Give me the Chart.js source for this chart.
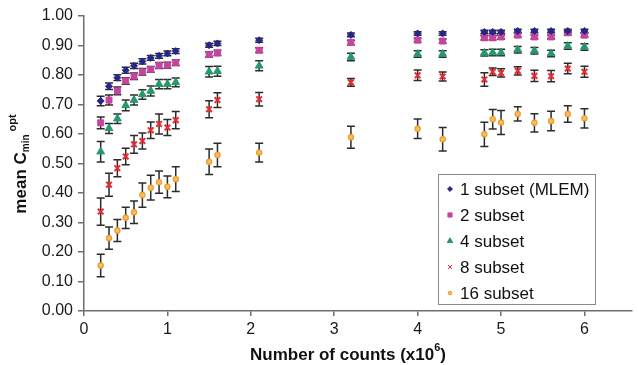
<!DOCTYPE html>
<html>
<head>
<meta charset="utf-8">
<title>mean Cmin opt vs counts</title>
<script src="https://cdn.jsdelivr.net/npm/chart.js@4/dist/chart.umd.min.js"></script>
<style>
    html, body { margin: 0; padding: 0; background: #fff; }
    #wrap { width: 638px; height: 365px; position: relative; }
</style>
</head>
<body>
<div id="wrap"><canvas id="cminChart" width="638" height="365"></canvas></div>
<script>
// counts in millions
const counts = [0.2, 0.3, 0.4, 0.5, 0.6, 0.7, 0.8, 0.9, 1.0, 1.1, 1.5, 1.6, 2.1, 3.2, 4.0, 4.3, 4.8, 4.9, 5.0, 5.2, 5.4, 5.6, 5.8, 6.0];

const subset1 = [0.712, 0.762, 0.791, 0.816, 0.831, 0.846, 0.858, 0.865, 0.873, 0.881, 0.901, 0.907, 0.918, 0.936, 0.941, 0.941, 0.946, 0.946, 0.946, 0.949, 0.949, 0.949, 0.949, 0.949];
const subset2 = [0.638, 0.715, 0.746, 0.780, 0.796, 0.811, 0.819, 0.832, 0.833, 0.842, 0.870, 0.875, 0.884, 0.910, 0.918, 0.915, 0.926, 0.926, 0.929, 0.935, 0.929, 0.929, 0.943, 0.935];
const subset4 = [0.540, 0.619, 0.652, 0.697, 0.715, 0.734, 0.746, 0.769, 0.769, 0.775, 0.811, 0.813, 0.831, 0.861, 0.871, 0.871, 0.875, 0.876, 0.876, 0.886, 0.882, 0.873, 0.898, 0.895];
const subset8 = [0.337, 0.428, 0.484, 0.524, 0.565, 0.576, 0.613, 0.634, 0.622, 0.647, 0.684, 0.715, 0.718, 0.775, 0.799, 0.795, 0.785, 0.811, 0.807, 0.814, 0.797, 0.796, 0.822, 0.811];
const subset16 = [0.154, 0.247, 0.273, 0.316, 0.335, 0.393, 0.418, 0.437, 0.421, 0.447, 0.506, 0.529, 0.537, 0.589, 0.618, 0.582, 0.599, 0.650, 0.639, 0.668, 0.638, 0.644, 0.668, 0.653];

// +/- standard deviation per point
const err1 = [0.016, 0.011, 0.010, 0.010, 0.009, 0.009, 0.008, 0.008, 0.008, 0.008, 0.007, 0.007, 0.007, 0.006, 0.006, 0.006, 0.006, 0.006, 0.006, 0.006, 0.006, 0.006, 0.006, 0.006];
const err2 = [0.020, 0.017, 0.013, 0.011, 0.011, 0.011, 0.010, 0.010, 0.010, 0.010, 0.009, 0.009, 0.008, 0.008, 0.007, 0.007, 0.007, 0.007, 0.007, 0.007, 0.007, 0.007, 0.007, 0.007];
const err4 = [0.035, 0.017, 0.016, 0.018, 0.017, 0.016, 0.017, 0.016, 0.016, 0.015, 0.018, 0.017, 0.017, 0.013, 0.011, 0.011, 0.011, 0.011, 0.011, 0.011, 0.011, 0.011, 0.011, 0.011];
const err8 = [0.046, 0.039, 0.029, 0.028, 0.030, 0.027, 0.028, 0.034, 0.027, 0.029, 0.029, 0.025, 0.023, 0.013, 0.018, 0.015, 0.023, 0.013, 0.014, 0.014, 0.019, 0.019, 0.018, 0.019];
const err16 = [0.038, 0.038, 0.037, 0.036, 0.038, 0.041, 0.042, 0.038, 0.037, 0.042, 0.043, 0.040, 0.032, 0.037, 0.033, 0.040, 0.041, 0.033, 0.041, 0.024, 0.031, 0.033, 0.028, 0.033];

const yTicks = [0, 0.1, 0.2, 0.3, 0.4, 0.5, 0.6, 0.7, 0.8, 0.9, 1.0];
const xTicks = [0, 1, 2, 3, 4, 5, 6];

const FONT = '"Liberation Sans", Arial, Helvetica, sans-serif';

const series = [
    { label: '1 subset (MLEM)', values: subset1, errors: err1, style: 'rectRot', radius: 3.5, color: '#25258c', fill: '#25258c', bw: 1 },
    { label: '2 subset', values: subset2, errors: err2, style: 'rect', radius: 4.2, color: '#c6449f', fill: '#c6449f', bw: 1 },
    { label: '4 subset', values: subset4, errors: err4, style: 'triangle', radius: 4.5, color: '#27986b', fill: '#27986b', bw: 1 },
    { label: '8 subset', values: subset8, errors: err8, style: 'crossRot', radius: 4, color: '#ea2a30', fill: '#ea2a30', bw: 2 },
    { label: '16 subset', values: subset16, errors: err16, style: 'circle', radius: 2.6, color: '#ee9c2c', fill: '#f5bf5e', bw: 1.2 }
];

const datasets = series.map(s => ({
    label: s.label,
    data: counts.map((c, i) => ({ x: c, y: s.values[i] })),
    errors: s.errors,
    pointStyle: s.style,
    pointRadius: s.radius,
    pointHoverRadius: s.radius,
    pointBorderWidth: s.bw,
    pointBackgroundColor: s.fill,
    pointBorderColor: s.color,
    showLine: false
}));

// vertical whiskers with caps, under the markers
const errorBars = {
    id: 'errorBars',
    beforeDatasetsDraw(chart) {
        const ctx = chart.ctx;
        const xs = chart.scales.x, ys = chart.scales.y;
        ctx.save();
        ctx.strokeStyle = '#2b2b2b';
        ctx.lineWidth = 1.5;
        chart.data.datasets.forEach(ds => {
            ds.data.forEach((p, i) => {
                const e = ds.errors[i];
                const px = xs.getPixelForValue(p.x);
                const top = ys.getPixelForValue(p.y + e);
                const bot = ys.getPixelForValue(p.y - e);
                ctx.beginPath();
                ctx.moveTo(px, top); ctx.lineTo(px, bot);
                ctx.moveTo(px - 4, top); ctx.lineTo(px + 4, top);
                ctx.moveTo(px - 4, bot); ctx.lineTo(px + 4, bot);
                ctx.stroke();
            });
        });
        ctx.restore();
    }
};

// axis titles (with sub/superscripts) and the boxed legend
const annotations = {
    id: 'annotations',
    afterDraw(chart) {
        const ctx = chart.ctx;
        ctx.save();
        ctx.fillStyle = '#111';
        ctx.textBaseline = 'alphabetic';

        // y title: mean C_min^opt
        ctx.save();
        ctx.translate(26, 164);
        ctx.rotate(-Math.PI / 2);
        ctx.font = 'bold 17px ' + FONT;
        const wMain = ctx.measureText('mean C').width;
        ctx.font = 'bold 10px ' + FONT;
        const wSub = ctx.measureText('min').width;
        ctx.font = 'bold 11px ' + FONT;
        const wSup = ctx.measureText('opt').width;
        let x0 = -(wMain + wSub + 3 + wSup) / 2;
        ctx.font = 'bold 17px ' + FONT;
        ctx.fillText('mean C', x0, 0);
        x0 += wMain;
        ctx.font = 'bold 10px ' + FONT;
        ctx.fillText('min', x0, 3);
        x0 += wSub + 3;
        ctx.font = 'bold 11px ' + FONT;
        ctx.fillText('opt', x0, -10);
        ctx.restore();

        // x title: Number of counts (x10^6)
        ctx.font = 'bold 17px ' + FONT;
        const a = 'Number of counts (x10';
        const wa = ctx.measureText(a).width;
        const wc = ctx.measureText(')').width;
        ctx.font = 'bold 11px ' + FONT;
        const wb = ctx.measureText('6').width;
        let tx = 348 - (wa + wb + wc) / 2;
        ctx.font = 'bold 17px ' + FONT;
        ctx.fillText(a, tx, 360);
        ctx.font = 'bold 11px ' + FONT;
        ctx.fillText('6', tx + wa, 351);
        ctx.font = 'bold 17px ' + FONT;
        ctx.fillText(')', tx + wa + wb, 360);

        // legend box
        ctx.fillStyle = '#fff';
        ctx.fillRect(438.5, 174.5, 157, 130);
        ctx.strokeStyle = '#8a8a8a';
        ctx.lineWidth = 1;
        ctx.strokeRect(438.5, 174.5, 157, 130);
        const rowY = [189, 215, 241, 267, 293];
        series.forEach((s, i) => {
            ctx.fillStyle = s.fill;
            ctx.strokeStyle = s.color;
            Chart.helpers.drawPoint(ctx, {
                pointStyle: s.style,
                radius: s.radius * 0.7,
                borderWidth: s.bw,
                rotation: 0
            }, 450, rowY[i]);
            ctx.fillStyle = '#111';
            ctx.font = '17px ' + FONT;
            ctx.textBaseline = 'middle';
            ctx.fillText(s.label, 460, rowY[i] + 1);
        });
        ctx.restore();
    }
};

new Chart(document.getElementById('cminChart'), {
    type: 'scatter',
    data: { datasets },
    plugins: [errorBars, annotations],
    options: {
        responsive: false,
        animation: false,
        layout: { padding: { top: 16, right: 1, left: 0, bottom: 0 } },
        plugins: {
            legend: { display: false },
            tooltip: { enabled: false }
        },
        scales: {
            x: {
                type: 'linear',
                min: 0,
                max: 6.57,
                afterBuildTicks: (scale) => { scale.ticks = xTicks.map(v => ({ value: v })); },
                afterFit: (scale) => { scale.height = 54; },
                grid: { drawOnChartArea: false, drawTicks: true, tickLength: 5, color: '#6e6e6e', lineWidth: 1.5 },
                border: { display: true, color: '#6e6e6e', width: 1.5 },
                ticks: { color: '#1a1a1a', padding: 4, font: { family: FONT, size: 16 } }
            },
            y: {
                type: 'linear',
                min: 0,
                max: 1,
                afterBuildTicks: (scale) => { scale.ticks = yTicks.map(v => ({ value: v })); },
                afterFit: (scale) => { scale.width = 84; },
                grid: { drawOnChartArea: false, drawTicks: true, tickLength: 6, color: '#6e6e6e', lineWidth: 1.5 },
                border: { display: true, color: '#6e6e6e', width: 1.5 },
                ticks: {
                    color: '#1a1a1a',
                    padding: 5,
                    font: { family: FONT, size: 16 },
                    callback: (v) => v.toFixed(2)
                }
            }
        }
    }
});
</script>
</body>
</html>
